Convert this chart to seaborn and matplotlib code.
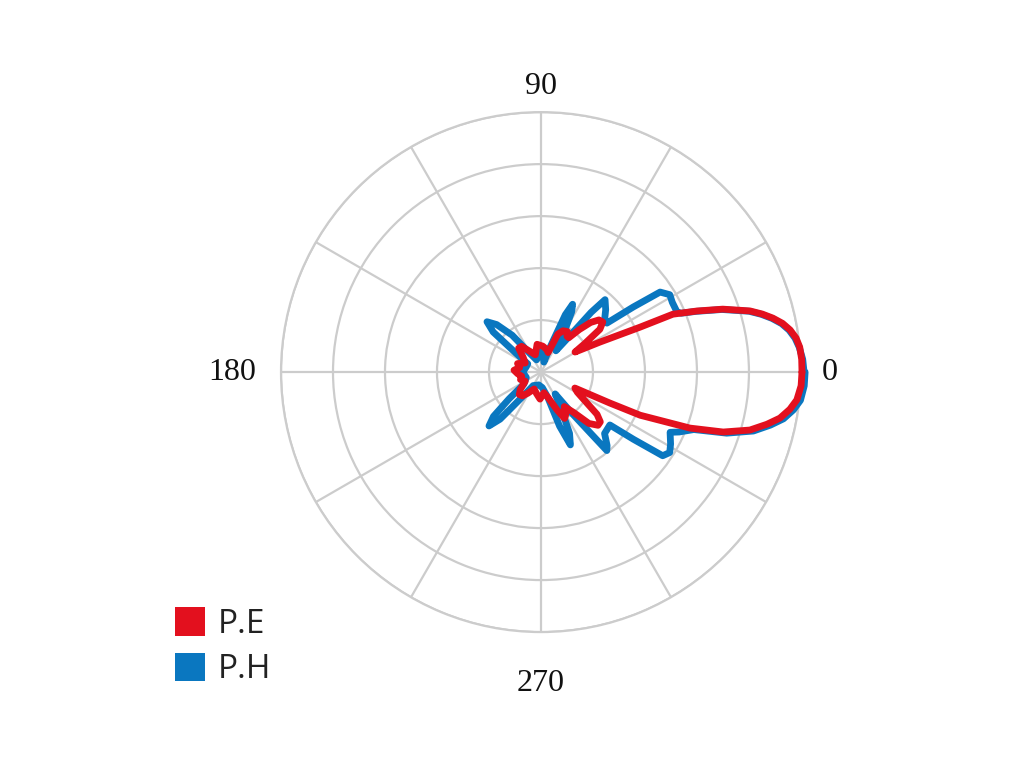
import numpy as np
import pandas as pd
import matplotlib
matplotlib.use("Agg")
import matplotlib.pyplot as plt
import seaborn as sns
from matplotlib.patches import Patch

# radiation pattern: angle (deg), radius (one grid ring = 10)
pe_angle = [0, 2.8, 5.5, 7.6, 9.6, 11.4, 13.1, 14.7, 16.3, 19.1, 21.4, 23.7, 24.4, 27, 30.5,
            33, 36, 39, 42, 45, 48, 51, 54, 57, 62, 66, 70,
            76, 86, 98, 108, 118, 127, 133, 140, 150, 160, 168, 176,
            184, 192, 200, 210, 220, 226, 232, 238, 248, 258, 268, 278, 286,
            293, 297, 300, 304, 309, 313, 317, 320, 323, 327, 331, 334.8,
            335.8, 336.5, 339.4, 341.8, 344.5, 347, 349.1, 351.5, 353.8, 357, 360]
pe_r = [50.2, 50.2, 50.0, 49.5, 48.6, 47.4, 45.8, 44.0, 41.9, 37.0, 32.2, 27.7, 20.9, 12.7, 7.6,
        10, 14, 15.3, 15, 13.5, 11, 8.5, 8.5, 9.3, 9, 8, 4,
        4.5, 5, 5.4, 3.5, 4.5, 6.2, 6.3, 4.5, 3.5, 4.8, 4.2, 5.2,
        4.5, 3.8, 4.2, 3.5, 5.2, 6.0, 5.8, 4.8, 3.5, 4.2, 5.2, 4, 5.2,
        7.9, 10, 9.5, 8, 10, 13.5, 15, 14.9, 13.5, 10, 8, 7.2,
        14.5, 20.8, 30.6, 36.9, 41.7, 44.6, 46.8, 48.4, 49.5, 50.1, 50.2]

ph_angle = [0, 2.8, 5.5, 7.6, 9.6, 11.4, 13.1, 14.7, 16.3, 19.1, 21.4, 22.8, 24, 28, 31, 33.9, 35.2, 36.6,
            40, 44, 48.5, 50, 52, 55, 60, 63, 65, 67, 70, 74,
            80, 90, 100, 110, 120, 128, 133, 137, 140, 143, 148,
            160, 180, 200, 215, 220, 223, 226, 229, 233, 240, 260, 275,
            285, 289, 292, 295, 299, 303, 307, 310, 312, 316, 322.5,
            324, 325.5, 328, 331, 335, 336.6, 339.4, 341.8, 344.5, 347, 349.1, 351.5, 353.8, 357, 360]
ph_r = [50.6, 50.4, 49.9, 49.3, 48.4, 47.2, 45.6, 43.8, 41.7, 36.8, 32, 29.2, 28.6, 28.6, 28.9, 27.6, 21.7, 15.8,
        16, 17.3, 18.6, 15, 8, 5, 9, 13, 14.4, 12, 5, 2,
        3, 4, 3, 2.5, 4, 9, 12.5, 14.2, 12, 6, 3,
        3, 3.5, 3, 4, 8, 12.5, 14.4, 12, 6, 3, 2.5, 3,
        5, 11, 15.1, 13, 8, 5, 10, 19.7, 19, 17, 16.7,
        22, 28.4, 29.2, 28.5, 27.4, 29, 31.4, 37.6, 42.4, 45.3, 47.5, 49.1, 50.2, 50.7, 50.8]

series_names = ["P.E", "P.H"]
series_colors = ["#e3101e", "#0a77c0"]

df = pd.concat([
    pd.DataFrame({"theta": np.deg2rad(ph_angle), "r": ph_r, "series": "P.H"}),
    pd.DataFrame({"theta": np.deg2rad(pe_angle), "r": pe_r, "series": "P.E"}),
])

sns.set_style("white")
fig = plt.figure(figsize=(10.24, 7.68), dpi=100)
ax = fig.add_axes([0.2744, 0.177, 0.5078, 0.677], projection="polar")

# blue first so red sits on top
for name, col, z in [("P.H", series_colors[1], 3), ("P.E", series_colors[0], 4)]:
    sub = df[df["series"] == name]
    sns.lineplot(data=sub, x="theta", y="r", ax=ax, sort=False, color=col,
                 lw=4.9, zorder=z, estimator=None, clip_on=False,
                 solid_joinstyle="round", solid_capstyle="round")

ax.set_rlim(0, 50)
ax.set_rticks([10, 20, 30, 40, 50])
ax.set_yticklabels([])
ax.set_thetagrids(np.arange(0, 360, 30), labels=[""] * 12)
ax.grid(True, color="#cccccc", lw=1.6)
ax.spines["polar"].set_color("#cccccc")
ax.spines["polar"].set_linewidth(1.6)
ax.set_xlabel("")
ax.set_ylabel("")

# angle labels
lab_font = dict(family="Liberation Serif", fontsize=23, color="#111111",
                ha="center", va="center")
for ang, rr, txt in [(0, 55.6, "0"), (90, 55.0, "90"),
                     (180, 59.4, "180"), (270, 59.8, "270")]:
    ax.text(np.deg2rad(ang), rr, txt, clip_on=False, **lab_font)

handles = [Patch(facecolor=c, edgecolor="none") for c in series_colors]
fig.legend(handles, series_names, loc="upper left",
           bbox_to_anchor=(0.171, 0.209), frameon=False,
           prop={"family": "Open Sans", "size": 24},
           handlelength=0.9, handleheight=0.95, handletextpad=0.38,
           labelspacing=0.34, borderpad=0, borderaxespad=0)
for t in fig.legends[0].get_texts():
    t.set_color("#222222")

plt.savefig("out.png", dpi=100)
